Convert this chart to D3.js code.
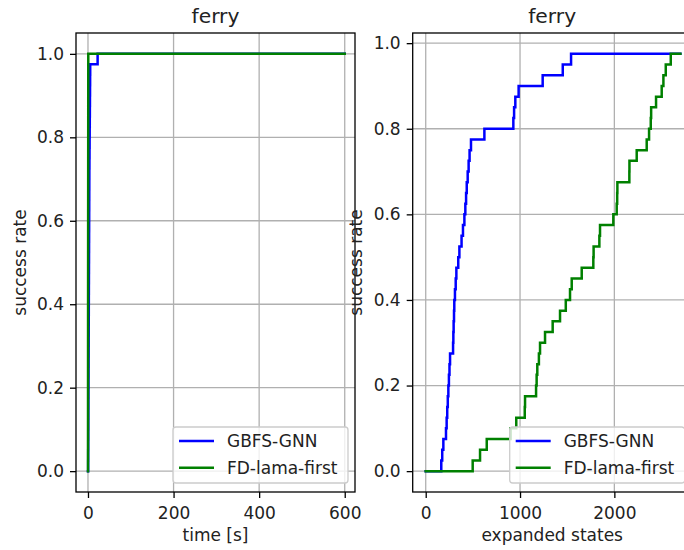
<!DOCTYPE html>
<html><head><meta charset="utf-8">
<script src="https://cdn.jsdelivr.net/npm/d3@7"></script>
<style>
body{margin:0;background:#fff}
svg{display:block;font-family:"DejaVu Sans",sans-serif}
</style>
</head><body>
<svg id="chart" width="684" height="550"></svg>
<script>
// ---------------- data ----------------
const nProblems = 40;
const seriesNames = ["GBFS-GNN", "FD-lama-first"];
const seriesColors = ["#0000ff", "#008000"];
const panelTitles = ["ferry", "ferry"];
const xLabels = ["time [s]", "expanded states"];
const yLabel = "success rate";
const yTicks = [0, 0.2, 0.4, 0.6, 0.8, 1.0];
const timeTicks = [0, 200, 400, 600];
const stateTicks = [0, 1000, 2000, 3000];

// solve times (s) per problem
const gnnTimes = [0.4, 0.5, 0.6, 0.7, 0.8, 0.9, 1.0, 1.1, 1.2, 1.3, 1.4, 1.5, 1.6, 1.7, 1.8,
  1.9, 2.0, 2.1, 2.2, 2.3, 2.4, 2.5, 2.6, 2.7, 2.8, 2.9, 3.0, 3.1, 3.2, 3.4, 3.6, 3.8, 4.0,
  4.2, 4.4, 4.6, 4.8, 5.0, 5.2, 22.5];
const lamaTimes = [0.05, 0.06, 0.07, 0.08, 0.09, 0.1, 0.11, 0.12, 0.13, 0.14, 0.15, 0.16,
  0.17, 0.18, 0.19, 0.2, 0.22, 0.24, 0.26, 0.28, 0.3, 0.32, 0.34, 0.36, 0.38, 0.4, 0.42,
  0.44, 0.46, 0.48, 0.5, 0.52, 0.54, 0.56, 0.58, 0.6, 0.62, 0.65, 0.68, 0.7];
const timeEnd = 600;

// expanded states per solved problem
const gnnStates = [165, 175, 187, 215, 222, 228, 234, 240, 246, 252, 258, 290, 293, 296, 300,
  303, 310, 318, 325, 345, 357, 380, 395, 410, 420, 428, 435, 445, 455, 465, 480, 622, 929,
  937, 950, 985, 1240, 1453, 1541];
const lamaStates = [498, 576, 647, 900, 960, 1050, 1053, 1170, 1176, 1183, 1200, 1212, 1265,
  1346, 1424, 1485, 1530, 1548, 1654, 1777, 1780, 1841, 1848, 1989, 2025, 2030, 2032, 2159,
  2160, 2237, 2343, 2368, 2386, 2390, 2442, 2502, 2520, 2545, 2598];
const statesEnd = 2700;

// ---------------- layout ----------------
const svg = d3.select("#chart");
const yTop = 33, yBottom = 492;
const lw = 2.5, spineW = 1.3, gridW = 1.3;
const fontTick = 17, fontTitle = 20.3;

function cumulative(values, end) {
  const s = values.slice().sort((a, b) => a - b);
  const pts = [[0, 0]];
  s.forEach((v, i) => pts.push([v, (i + 1) / nProblems]));
  pts.push([end, s.length / nProblems]);
  return pts;
}

const panels = [
  { x0: 76, x1: 355, xDomain: [-28, 624], yDomain: [-0.05, 1.05], xTicks: timeTicks,
    series: [cumulative(gnnTimes, timeEnd), cumulative(lamaTimes, timeEnd)],
    title: panelTitles[0], xLabel: xLabels[0], yLabelX: 26 },
  { x0: 412.7, x1: 691.7, xDomain: [-138, 2820], yDomain: [-0.04875, 1.02375], xTicks: stateTicks,
    series: [cumulative(gnnStates, statesEnd), cumulative(lamaStates, statesEnd)],
    title: panelTitles[1], xLabel: xLabels[1], yLabelX: 362 }
];

panels.forEach((p, pi) => {
  const x = d3.scaleLinear().domain(p.xDomain).range([p.x0, p.x1]);
  const y = d3.scaleLinear().domain(p.yDomain).range([yBottom, yTop]);
  const g = svg.append("g");
  const xt = p.xTicks.filter(t => t >= p.xDomain[0] && t <= p.xDomain[1]);

  const clipId = "clip" + pi;
  svg.append("clipPath").attr("id", clipId).append("rect")
    .attr("x", p.x0).attr("y", yTop).attr("width", p.x1 - p.x0).attr("height", yBottom - yTop);

  // grid
  g.append("g").selectAll("line").data(xt).join("line")
    .attr("x1", d => x(d)).attr("x2", d => x(d)).attr("y1", yTop).attr("y2", yBottom)
    .attr("stroke", "#b0b0b0").attr("stroke-width", gridW);
  g.append("g").selectAll("line").data(yTicks).join("line")
    .attr("y1", d => y(d)).attr("y2", d => y(d)).attr("x1", p.x0).attr("x2", p.x1)
    .attr("stroke", "#b0b0b0").attr("stroke-width", gridW);

  // lines
  const line = d3.line().x(d => x(d[0])).y(d => y(d[1])).curve(d3.curveStepAfter);
  const lg = g.append("g").attr("clip-path", `url(#${clipId})`);
  p.series.forEach((s, si) => {
    lg.append("path").datum(s).attr("d", line).attr("fill", "none")
      .attr("stroke", seriesColors[si]).attr("stroke-width", lw)
      .attr("stroke-linejoin", "miter").attr("stroke-linecap", "square");
  });

  // axes
  const xAxis = d3.axisBottom(x).tickValues(xt).tickFormat(d3.format("d"))
    .tickSize(6).tickPadding(6).tickSizeOuter(0);
  const yAxis = d3.axisLeft(y).tickValues(yTicks).tickFormat(d3.format(".1f"))
    .tickSize(6).tickPadding(6).tickSizeOuter(0);
  const ax = g.append("g").attr("transform", `translate(0,${yBottom})`).call(xAxis);
  const ay = g.append("g").attr("transform", `translate(${p.x0},0)`).call(yAxis);
  [ax, ay].forEach(a => {
    a.select(".domain").remove();
    a.selectAll(".tick line").attr("stroke", "#000").attr("stroke-width", spineW);
    a.selectAll(".tick text").attr("fill", "#222").style("font-size", fontTick + "px")
      .style("font-family", "DejaVu Sans");
  });
  ax.selectAll(".tick text").attr("dy", null).attr("y", 27);

  // frame
  g.append("rect").attr("x", p.x0).attr("y", yTop).attr("width", p.x1 - p.x0)
    .attr("height", yBottom - yTop).attr("fill", "none").attr("stroke", "#000")
    .attr("stroke-width", spineW);

  // title & labels
  const cx = (p.x0 + p.x1) / 2;
  g.append("text").attr("x", cx).attr("y", 22.5).attr("text-anchor", "middle")
    .attr("fill", "#222").style("font-size", fontTitle + "px").text(p.title);
  g.append("text").attr("x", cx).attr("y", 541).attr("text-anchor", "middle")
    .attr("fill", "#222").style("font-size", fontTick + "px").text(p.xLabel);
  g.append("text").attr("transform", `translate(${p.yLabelX},${(yTop + yBottom) / 2}) rotate(-90)`)
    .attr("text-anchor", "middle").attr("fill", "#222").style("font-size", fontTick + "px")
    .text(yLabel);

  // legend (lower right)
  const legW = 175, legH = 56;
  const lx = p.x1 - 7 - legW, ly = yBottom - 9 - legH;
  const leg = g.append("g");
  leg.append("rect").attr("x", lx).attr("y", ly).attr("width", legW).attr("height", legH)
    .attr("rx", 3).attr("fill", "#fff").attr("fill-opacity", 0.8)
    .attr("stroke", "#cccccc").attr("stroke-width", 1.3);
  seriesNames.forEach((name, i) => {
    const yy = ly + 14 + i * 26.7;
    leg.append("line").attr("x1", lx + 6).attr("x2", lx + 41).attr("y1", yy).attr("y2", yy)
      .attr("stroke", seriesColors[i]).attr("stroke-width", lw);
    leg.append("text").attr("x", lx + 54).attr("y", yy).attr("dominant-baseline", "central")
      .attr("fill", "#222").style("font-size", fontTick + "px").text(name);
  });
});
</script>
</body></html>
